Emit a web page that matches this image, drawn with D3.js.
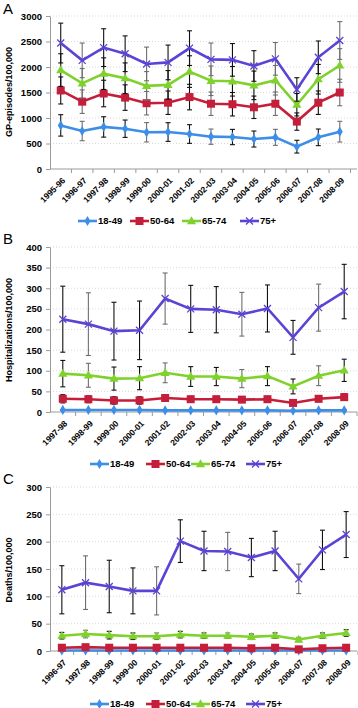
<!DOCTYPE html>
<html>
<head>
<meta charset="utf-8">
<script src="https://cdn.jsdelivr.net/npm/d3@7"></script>
<style>
  html, body { margin: 0; padding: 0; background: #fff; }
  svg { display: block; font-family: "Liberation Sans", Arial, sans-serif; }
</style>
</head>
<body>
<svg id="chart" width="358" height="708"></svg>
<script>
// Panel A: GP episodes per 100,000
const yearsA = ['1995-96','1996-97','1997-98','1998-99','1999-00','2000-01','2001-02',
  '2002-03','2003-04','2004-05','2005-06','2006-07','2007-08','2008-09'];
const gp18 = [855, 745, 825, 790, 720, 725, 686, 634, 627, 588, 621, 438, 621, 732];
const gp50 = [1540, 1320, 1480, 1400, 1290, 1300, 1410, 1280, 1270, 1210, 1280, 930, 1300, 1500];
const gp65 = [1940, 1680, 1870, 1780, 1630, 1650, 1910, 1730, 1720, 1640, 1740, 1260, 1760, 2030];
const gp75 = [2470, 2130, 2380, 2260, 2060, 2090, 2370, 2150, 2140, 2020, 2160, 1560, 2190, 2520];
const gp18Err = [210, 190, 200, 170, 190, 183, 183, 150, 150, 157, 157, 125, 163, 203];
const gp50Err = [265, 230, 260, 250, 230, 230, 250, 230, 230, 220, 230, 170, 230, 260];
const gp65Err = [320, 290, 310, 300, 280, 280, 310, 290, 290, 280, 290, 220, 290, 330];
const gp75Err = [390, 340, 370, 350, 330, 340, 340, 320, 320, 300, 320, 230, 320, 370];

// Panel B: hospitalizations per 100,000
const yearsB = ['1997-98','1998-99','1999-00','2000-01','2001-02','2002-03',
  '2003-04','2004-05','2005-06','2006-07','2007-08','2008-09'];
const hosp18 = [5, 5, 5, 5, 4, 4, 4, 4, 4, 3, 4, 4];
const hosp50 = [32, 31, 28, 28, 34, 31, 31, 30, 31, 22, 32, 36];
const hosp65 = [93, 89, 81, 82, 95, 86, 86, 81, 87, 62, 88, 101];
const hosp75 = [225, 213, 196, 198, 275, 250, 248, 237, 251, 181, 253, 292];
const hosp18Err = [1, 1, 1, 1, 1, 1, 1, 1, 1, 1, 1, 1];
const hosp50Err = [10, 9, 9, 9, 8, 7, 7, 7, 7, 6, 7, 8];
const hosp65Err = [32, 29, 28, 28, 24, 24, 22, 22, 23, 18, 24, 27];
const hosp75Err = [80, 76, 70, 71, 62, 57, 56, 53, 57, 41, 57, 66];

// Panel C: deaths per 100,000
const yearsC = ['1996-97','1997-98','1998-99','1999-00','2000-01','2001-02','2002-03',
  '2003-04','2004-05','2005-06','2006-07','2007-08','2008-09'];
const death18 = [1, 1, 1, 1, 1, 1, 1, 1, 1, 1, 1, 1, 1];
const death50 = [6, 7, 6, 6, 6, 6, 6, 6, 5, 6, 3, 5, 6];
const death65 = [28, 31, 29, 27, 27, 30, 28, 28, 26, 28, 21, 28, 33];
const death75 = [112, 125, 118, 110, 110, 201, 183, 182, 171, 183, 132, 185, 213];
const death18Err = [0.5, 0.5, 0.5, 0.5, 0.5, 0.5, 0.5, 0.5, 0.5, 0.5, 0.5, 0.5, 0.5];
const death50Err = [2, 2, 2, 2, 2, 2, 2, 2, 2, 2, 1.5, 2, 2];
const death65Err = [6, 7, 7, 6, 6, 6, 5, 5, 5, 5, 4, 5, 6];
const death75Err = [44, 49, 48, 42, 44, 39, 36, 35, 35, 36, 27, 36, 42];

const ageGroups = ['18-49', '50-64', '65-74', '75+'];
const colors = ['#3d8ee6', '#c41e3a', '#7fd22c', '#5a44d6'];
const shapes = ['diamond', 'square', 'triangle', 'cross'];

const svg = d3.select('#chart');

function marker(g, shape, cx, cy, color) {
  if (shape === 'diamond') {
    g.append('path').attr('d', d3.symbol(d3.symbolDiamond, 30)())
      .attr('transform', `translate(${cx},${cy})`).attr('fill', color);
  } else if (shape === 'square') {
    g.append('rect').attr('x', cx - 4).attr('y', cy - 4).attr('width', 8).attr('height', 8)
      .attr('fill', color);
  } else if (shape === 'triangle') {
    g.append('path').attr('d', d3.symbol(d3.symbolTriangle, 36)())
      .attr('transform', `translate(${cx},${cy + 0.5})`).attr('fill', color);
  } else {
    g.append('path').attr('d', `M${cx - 3.5},${cy - 3.5}L${cx + 3.5},${cy + 3.5}M${cx - 3.5},${cy + 3.5}L${cx + 3.5},${cy - 3.5}`)
      .attr('stroke', color).attr('stroke-width', 1.3).attr('fill', 'none');
  }
}

function drawPanel(p) {
  const g = svg.append('g');
  const band = d3.scaleBand().domain(p.years).range([p.left, p.right]);
  const x = d => band(d) + band.bandwidth() / 2;
  const y = d3.scaleLinear().domain([0, p.max]).range([p.bottom, p.top]);
  const ticks = d3.range(0, p.max + 1, p.step);

  // dotted gridlines
  g.selectAll('.grid').data(ticks.slice(1)).enter().append('line')
    .attr('x1', p.left).attr('x2', 357)
    .attr('y1', d => y(d)).attr('y2', d => y(d))
    .attr('stroke', '#cfcfcf').attr('stroke-width', 0.8).attr('stroke-dasharray', '1,2');

  // y axis
  const ya = g.append('g').attr('transform', `translate(${p.left},0)`)
    .call(d3.axisLeft(y).tickValues(ticks).tickFormat(d3.format('d'))
      .tickSize(4).tickPadding(4).tickSizeOuter(0));
  ya.select('.domain').attr('stroke', '#9a9a9a');
  ya.selectAll('.tick line').attr('stroke', '#9a9a9a');
  ya.selectAll('text').attr('font-size', 9.5).attr('font-weight', 'bold').attr('fill', '#000')
    .attr('font-family', 'Liberation Sans, Arial, sans-serif');

  // x axis with ticks between categories
  g.append('line').attr('x1', p.left).attr('x2', 357).attr('y1', p.bottom).attr('y2', p.bottom)
    .attr('stroke', '#9a9a9a');
  g.selectAll('.xt').data(p.years).enter().append('line')
    .attr('x1', d => band(d) + band.bandwidth()).attr('x2', d => band(d) + band.bandwidth())
    .attr('y1', p.bottom).attr('y2', p.bottom + 4).attr('stroke', '#9a9a9a');
  g.selectAll('.xl').data(p.years).enter().append('text')
    .attr('transform', d => `translate(${x(d) + 3},${p.bottom + 10}) rotate(-45)`)
    .attr('text-anchor', 'end').attr('dy', '0.35em')
    .attr('font-size', 8.5).attr('font-weight', 'bold').text(d => d);

  // panel letter and y title
  g.append('text').attr('x', 3).attr('y', p.letterY).attr('font-size', 15).text(p.letter);
  g.append('text').attr('transform', `translate(12,${p.titleY}) rotate(-90)`)
    .attr('text-anchor', 'middle').attr('font-size', 9).attr('font-weight', 'bold').text(p.title);

  // series: error bars, line, markers
  p.series.forEach((vals, i) => {
    const errs = p.errors[i];
    const sg = g.append('g');
    vals.forEach((v, j) => {
      const cx = x(p.years[j]);
      const col = j % 3 === 1 ? '#6e6e6e' : '#111';
      sg.append('line').attr('x1', cx).attr('x2', cx)
        .attr('y1', y(v - errs[j])).attr('y2', y(v + errs[j]))
        .attr('stroke', col).attr('stroke-width', 1.1);
      [v - errs[j], v + errs[j]].forEach(e => {
        sg.append('line').attr('x1', cx - 2.5).attr('x2', cx + 2.5)
          .attr('y1', y(e)).attr('y2', y(e)).attr('stroke', col).attr('stroke-width', 1.1);
      });
    });
    sg.append('path').datum(vals)
      .attr('d', d3.line().x((d, j) => x(p.years[j])).y(d => y(d)))
      .attr('fill', 'none').attr('stroke', colors[i]).attr('stroke-width', 2.6);
    vals.forEach((v, j) => marker(sg, shapes[i], x(p.years[j]), y(v), colors[i]));
  });

  // legend
  const lg = g.append('g');
  ageGroups.forEach((name, i) => {
    const lx = p.legendX[i];
    lg.append('line').attr('x1', lx).attr('x2', lx + 19).attr('y1', p.legendY).attr('y2', p.legendY)
      .attr('stroke', colors[i]).attr('stroke-width', 2.6);
    marker(lg, shapes[i], lx + 9.5, p.legendY, colors[i]);
    lg.append('text').attr('x', lx + 20).attr('y', p.legendY).attr('dy', '0.35em')
      .attr('font-size', 9.5).attr('font-weight', 'bold').text(name);
  });
}

drawPanel({
  letter: 'A', letterY: 14, title: 'GP-episodes/100,000', titleY: 92,
  years: yearsA, series: [gp18, gp50, gp65, gp75], errors: [gp18Err, gp50Err, gp65Err, gp75Err],
  max: 3000, step: 500, left: 50, right: 350.5, top: 16, bottom: 169,
  legendY: 221, legendX: [78, 130, 182, 240]
});
drawPanel({
  letter: 'B', letterY: 244, title: 'Hospitalizations/100,000', titleY: 330,
  years: yearsB, series: [hosp18, hosp50, hosp65, hosp75], errors: [hosp18Err, hosp50Err, hosp65Err, hosp75Err],
  max: 400, step: 50, left: 50, right: 357, top: 247, bottom: 412,
  legendY: 464, legendX: [90, 146, 191, 246]
});
drawPanel({
  letter: 'C', letterY: 484, title: 'Deaths/100,000', titleY: 570,
  years: yearsC, series: [death18, death50, death65, death75], errors: [death18Err, death50Err, death65Err, death75Err],
  max: 300, step: 50, left: 50, right: 358, top: 487, bottom: 651,
  legendY: 704, legendX: [90, 146, 191, 246]
});
</script>
</body>
</html>
